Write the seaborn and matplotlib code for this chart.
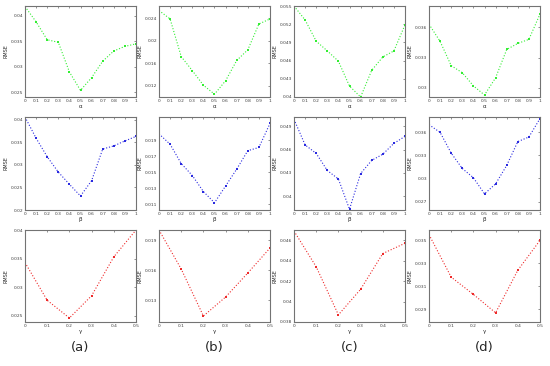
import numpy as np
import pandas as pd
import matplotlib
matplotlib.use('Agg')
import matplotlib.pyplot as plt
import seaborn as sns

sns.set_style('white')
plt.rcParams['font.family'] = ['DejaVu Sans']

# parameter values on the x axes
alpha_vals = [0, 0.1, 0.2, 0.3, 0.4, 0.5, 0.6, 0.7, 0.8, 0.9, 1.0]
beta_vals = [0, 0.1, 0.2, 0.3, 0.4, 0.5, 0.6, 0.7, 0.8, 0.9, 1.0]
gamma_vals = [0, 0.1, 0.2, 0.3, 0.4, 0.5]

# RMSE vs alpha (row 1, datasets a-d)
rmse_alpha_a = [0.0418, 0.0388, 0.0353, 0.0348, 0.0290, 0.0254, 0.0279, 0.0311, 0.0331, 0.0340, 0.0345]
rmse_alpha_b = [0.0254, 0.0239, 0.0172, 0.0147, 0.0121, 0.0105, 0.0129, 0.0165, 0.0184, 0.0230, 0.0239]
rmse_alpha_c = [0.0550, 0.0527, 0.0492, 0.0476, 0.0459, 0.0418, 0.0400, 0.0444, 0.0466, 0.0476, 0.0519]
rmse_alpha_d = [0.0363, 0.0346, 0.0322, 0.0315, 0.0302, 0.0293, 0.0310, 0.0338, 0.0344, 0.0348, 0.0373]

# RMSE vs beta (row 2)
rmse_beta_a = [0.0406, 0.0359, 0.0318, 0.0284, 0.0257, 0.0231, 0.0265, 0.0335, 0.0342, 0.0353, 0.0363]
rmse_beta_b = [0.0198, 0.0185, 0.0161, 0.0146, 0.0126, 0.0112, 0.0133, 0.0154, 0.0177, 0.0181, 0.0211]
rmse_beta_c = [0.0499, 0.0466, 0.0455, 0.0433, 0.0422, 0.0383, 0.0429, 0.0446, 0.0454, 0.0468, 0.0477]
rmse_beta_d = [0.0370, 0.0360, 0.0333, 0.0313, 0.0301, 0.0280, 0.0293, 0.0317, 0.0348, 0.0354, 0.0378]

# RMSE vs gamma (row 3)
rmse_gamma_a = [0.0343, 0.0277, 0.0246, 0.0285, 0.0353, 0.0400]
rmse_gamma_b = [0.0200, 0.0161, 0.0114, 0.0133, 0.0157, 0.0182]
rmse_gamma_c = [0.0469, 0.0434, 0.0387, 0.0412, 0.0447, 0.0457]
rmse_gamma_d = [0.0355, 0.0318, 0.0303, 0.0287, 0.0324, 0.0350]

# y ticks and limits for each panel
yticks_alpha = [[0.025, 0.03, 0.035, 0.04], [0.012, 0.016, 0.02, 0.024],
                [0.04, 0.043, 0.046, 0.049, 0.052, 0.055], [0.03, 0.033, 0.036]]
ylims_alpha = [(0.0241, 0.0419), (0.0100, 0.0262), (0.040, 0.055), (0.0291, 0.0381)]
yticks_beta = [[0.02, 0.025, 0.03, 0.035, 0.04], [0.011, 0.013, 0.015, 0.017, 0.019],
               [0.04, 0.043, 0.046, 0.049], [0.027, 0.03, 0.033, 0.036]]
ylims_beta = [(0.020, 0.0406), (0.0103, 0.0219), (0.0382, 0.0502), (0.0259, 0.0380)]
yticks_gamma = [[0.025, 0.03, 0.035, 0.04], [0.013, 0.016, 0.019],
                [0.038, 0.04, 0.042, 0.044, 0.046], [0.029, 0.031, 0.033, 0.035]]
ylims_gamma = [(0.0239, 0.040), (0.0108, 0.0200), (0.0380, 0.0470), (0.0279, 0.0359)]

rows = [
    (alpha_vals, [rmse_alpha_a, rmse_alpha_b, rmse_alpha_c, rmse_alpha_d], yticks_alpha, ylims_alpha, 'α', '#33ee33'),
    (beta_vals, [rmse_beta_a, rmse_beta_b, rmse_beta_c, rmse_beta_d], yticks_beta, ylims_beta, 'β', '#2a2ae0'),
    (gamma_vals, [rmse_gamma_a, rmse_gamma_b, rmse_gamma_c, rmse_gamma_d], yticks_gamma, ylims_gamma, 'γ', '#ee2a2a'),
]
panel_labels = ['(a)', '(b)', '(c)', '(d)']

W, H = 550, 366
fig = plt.figure(figsize=(5.5, 3.66), dpi=100)

# axes boxes in pixels
col_left = [25, 159, 294, 429]
col_width = 111
row_top = [6, 117, 230]
row_bottom = [97, 210, 322]

for r, (xs, series, yticks, ylims, xname, color) in enumerate(rows):
    for c in range(4):
        left = col_left[c] / W
        bottom = 1 - row_bottom[r] / H
        height = (row_bottom[r] - row_top[r]) / H
        ax = fig.add_axes([left, bottom, col_width / W, height])
        df = pd.DataFrame({'x': xs, 'rmse': series[c]})
        sns.lineplot(data=df, x='x', y='rmse', ax=ax, color=color, linestyle=':',
                     linewidth=0.8, marker='s', markersize=1.8, markeredgewidth=0)
        ax.set_xlim(xs[0], xs[-1])
        ax.set_ylim(*ylims[c])
        ax.set_xticks(xs)
        ax.set_xticklabels([f'{v:g}' for v in xs])
        ax.set_yticks(yticks[c])
        ax.set_yticklabels([f'{v:g}' for v in yticks[c]])
        ax.tick_params(direction='in', length=1.5, width=0.4, labelsize=3.2, pad=1.5,
                       top=True, right=True, colors='0.25')
        ax.set_xlabel(xname, fontsize=4, labelpad=1)
        ax.set_ylabel('RMSE', fontsize=3.5, labelpad=1.5)
        for sp in ax.spines.values():
            sp.set_color('0.45')
            sp.set_linewidth(0.8)

for c in range(4):
    cx = (col_left[c] + col_width / 2) / W
    fig.text(cx, 1 - 347 / H, panel_labels[c], ha='center', va='center', fontsize=9.5)

plt.savefig('out.png', dpi=100)
plt.close()
